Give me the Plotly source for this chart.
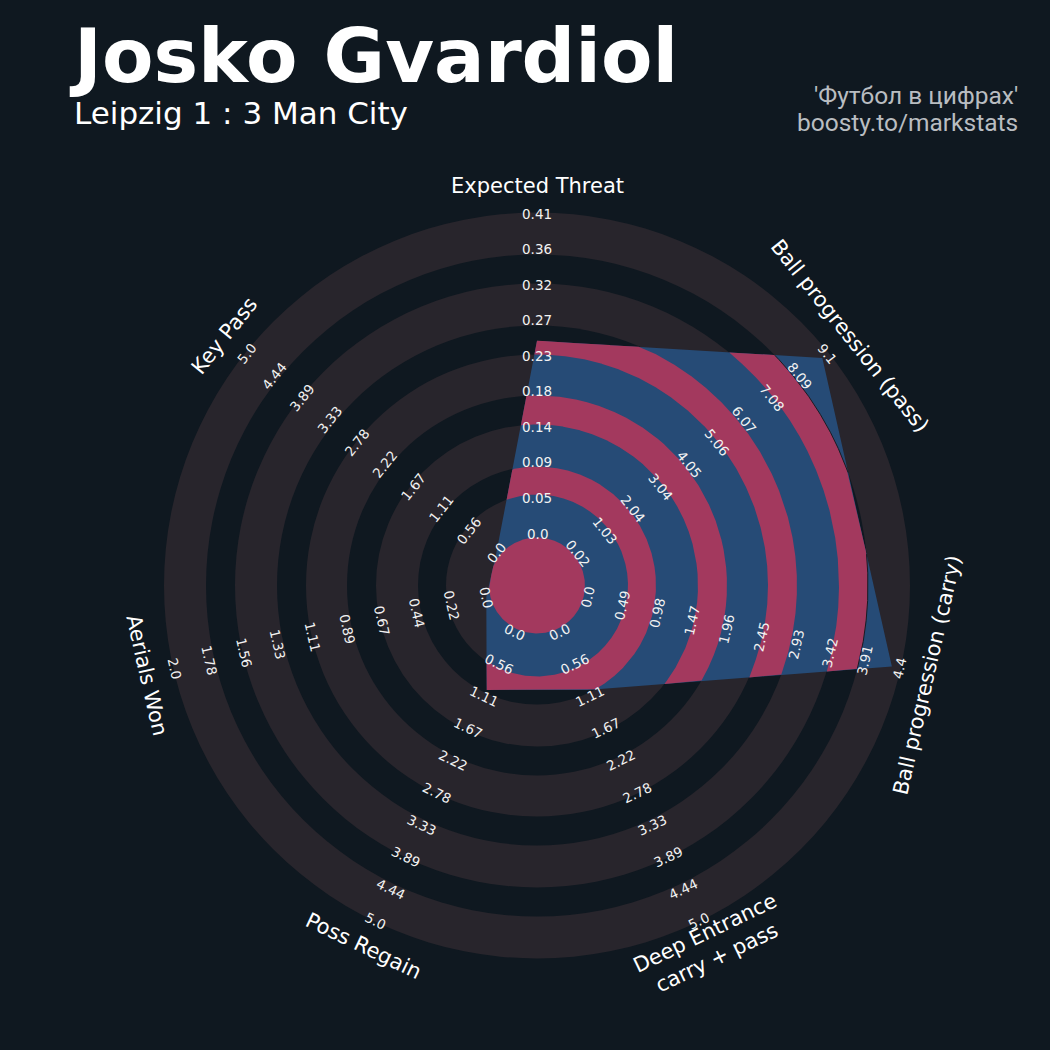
import numpy as np
import plotly.graph_objects as go

# ---------------- data ----------------
params = ["Expected Threat", "Ball progression (pass)", "Ball progression (carry)",
          "Deep Entrance<br>carry + pass", "Poss Regain", "Aerials Won", "Key Pass"]
min_range = [0.0, 0.017, 0.0, 0.0, 0.0, 0.0, 0.0]
max_range = [0.41, 9.1, 4.4, 5.0, 5.0, 2.0, 5.0]
values = [0.247, 8.9, 4.29, 1.0, 1.0, 0.0, 0.0]

labels_xt = ["0.0", "0.05", "0.09", "0.14", "0.18", "0.23", "0.27", "0.32", "0.36", "0.41"]
labels_pass = ["0.02", "1.03", "2.04", "3.04", "4.05", "5.06", "6.07", "7.08", "8.09", "9.1"]
labels_carry = ["0.0", "0.49", "0.98", "1.47", "1.96", "2.45", "2.93", "3.42", "3.91", "4.4"]
labels_deep = ["0.0", "0.56", "1.11", "1.67", "2.22", "2.78", "3.33", "3.89", "4.44", "5.0"]
labels_regain = ["0.0", "0.56", "1.11", "1.67", "2.22", "2.78", "3.33", "3.89", "4.44", "5.0"]
labels_aerial = ["0.0", "0.22", "0.44", "0.67", "0.89", "1.11", "1.33", "1.56", "1.78", "2.0"]
labels_key = ["0.0", "0.56", "1.11", "1.67", "2.22", "2.78", "3.33", "3.89", "4.44", "5.0"]
tick_labels = [labels_xt, labels_pass, labels_carry, labels_deep, labels_regain,
               labels_aerial, labels_key]

title = "Josko Gvardiol"
subtitle = "Leipzig 1 : 3 Man City"
credit_1 = "'Футбол в цифрах'"
credit_2 = "boosty.to/markstats"

# ---------------- style / geometry ----------------
W = H = 1050
CX, CY = 537.0, 585.5            # centre of radar in page pixels
R0, R1 = 52.0, 372.0             # radius for min / max value
R_OUT = 373.0
CENTER_R = 48.0
DARK_BANDS = [(91, 119), (161, 190), (231, 260), (302, 331)]
LABEL_R = 400.0

BG = "#0f1820"
GRAY = "#28252c"
BLUE = "#264b76"
RED = "#a3395e"
FONT = "DejaVu Sans"

n = len(params)
theta_deg = 90 - np.arange(n) * 360.0 / n
theta = np.deg2rad(theta_deg)

vals = np.array(values, float)
mins = np.array(min_range, float)
maxs = np.array(max_range, float)
r_v = R0 + np.clip((vals - mins) / (maxs - mins), 0, 1) * (R1 - R0)
P = np.stack([r_v * np.cos(theta), r_v * np.sin(theta)], -1)


def rho(th):
    u0, u1 = np.cos(th), np.sin(th)
    out = np.full(th.shape, np.nan)
    for i in range(n):
        A = P[i]
        B = P[(i + 1) % n]
        d = B - A
        den = u0 * d[1] - u1 * d[0]
        with np.errstate(divide="ignore", invalid="ignore"):
            s = (A[0] * B[1] - A[1] * B[0]) / den
            t = (A[0] * u1 - A[1] * u0) / den
        ok = (t >= -1e-9) & (t <= 1 + 1e-9) & (s > 0) & np.isnan(out)
        out = np.where(ok, s, out)
    return out


grid = np.linspace(0, 2 * np.pi, 3600, endpoint=False)
rg = rho(grid)
start = grid[np.nanargmin(rg)]
TH = np.linspace(start, start + 2 * np.pi, 6000)
RH = rho(np.mod(TH, 2 * np.pi))


def runs(mask):
    res = []
    i = 0
    N = len(mask)
    while i < N:
        if mask[i]:
            j = i
            while j < N and mask[j]:
                j += 1
            res.append((i, j))
            i = j
        else:
            i += 1
    return res


def band_path(a, b):
    xs, ys = [], []
    mask = RH > a
    for i, j in runs(mask):
        th = TH[i:j]
        ro = np.minimum(RH[i:j], b)
        px_ = list(ro * np.cos(th))
        py_ = list(ro * np.sin(th))
        if a > 0:
            ti = th[::-1]
            px_ += list(a * np.cos(ti))
            py_ += list(a * np.sin(ti))
        xs += px_ + [px_[0], None]
        ys += py_ + [py_[0], None]
    return xs, ys


fig = go.Figure()

# background rings
shapes = []


def circ(r, color):
    return dict(type="circle", xref="x", yref="y", x0=-r, y0=-r, x1=r, y1=r,
                fillcolor=color, line=dict(width=0), layer="below")


shapes.append(circ(R_OUT, GRAY))
for a, b in sorted(DARK_BANDS, reverse=True):
    shapes.append(circ(b, BG))
    shapes.append(circ(a, GRAY))

# radar polygon
fig.add_trace(go.Scatter(x=list(P[:, 0]) + [P[0, 0]], y=list(P[:, 1]) + [P[0, 1]],
                         mode="lines", fill="toself", fillcolor=BLUE,
                         line=dict(width=0, color=BLUE), hoverinfo="skip"))

# red rings inside the polygon
for a, b in [(0, CENTER_R)] + DARK_BANDS:
    xs, ys = band_path(a, b)
    fig.add_trace(go.Scatter(x=xs, y=ys, mode="lines", fill="toself", fillcolor=RED,
                             line=dict(width=0, color=RED), hoverinfo="skip"))

# thin dark edge at outer red ring
a, b = DARK_BANDS[-1]
lx, ly = [], []
m = RH >= b
for i, j in runs(m):
    th = TH[i:j]
    lx += list(b * np.cos(th)) + [None]
    ly += list(b * np.sin(th)) + [None]
fig.add_trace(go.Scatter(x=lx, y=ly, mode="lines", line=dict(width=1, color="#1b1b22"),
                         hoverinfo="skip"))


def text_angle(td):
    t = (90 - td) % 360
    if t > 180:
        t -= 360
    if t > 90:
        t -= 180
    elif t < -90:
        t += 180
    return t


annotations = []
for i in range(n):
    ang = text_angle(theta_deg[i])
    for k, lab in enumerate(tick_labels[i]):
        r = R0 + k * (R1 - R0) / 9
        annotations.append(dict(x=r * np.cos(theta[i]), y=r * np.sin(theta[i]), xref="x", yref="y",
                                text=lab, showarrow=False, textangle=ang,
                                xanchor="center", yanchor="middle",
                                font=dict(family=FONT, size=13.5, color="#f2f2f2")))
    annotations.append(dict(x=LABEL_R * np.cos(theta[i]), y=LABEL_R * np.sin(theta[i]),
                            xref="x", yref="y", text=params[i], showarrow=False, textangle=ang,
                            xanchor="center", yanchor="middle",
                            font=dict(family=FONT, size=21, color="#ffffff")))


def px(x):
    return x / W


def py(y):
    return 1 - y / H


annotations += [
    dict(x=px(67), y=py(56), xref="paper", yref="paper", text=title, showarrow=False,
         xanchor="left", yanchor="middle",
         font=dict(family=FONT, size=75, color="#ffffff", weight="bold")),
    dict(x=px(72), y=py(113), xref="paper", yref="paper", text=subtitle, showarrow=False,
         xanchor="left", yanchor="middle",
         font=dict(family=FONT, size=31, color="#ffffff")),
    dict(x=px(1020), y=py(96), xref="paper", yref="paper", text=credit_1, showarrow=False,
         xanchor="right", yanchor="middle",
         font=dict(family="Roboto", size=24.5, color="#b9bdc1")),
    dict(x=px(1020), y=py(123), xref="paper", yref="paper", text=credit_2, showarrow=False,
         xanchor="right", yanchor="middle",
         font=dict(family="Roboto", size=24.5, color="#b9bdc1")),
]

fig.update_layout(
    width=W, height=H,
    margin=dict(l=0, r=0, t=0, b=0),
    paper_bgcolor=BG, plot_bgcolor=BG,
    showlegend=False,
    shapes=shapes,
    annotations=annotations,
    xaxis=dict(range=[-CX, W - CX], visible=False, fixedrange=True),
    yaxis=dict(range=[-(H - CY), CY], visible=False, fixedrange=True),
)

fig.write_html("out.html", config={"displayModeBar": False},
               post_script="document.body.style.margin='0';document.body.style.background='%s';"
                           "document.body.style.overflow='hidden';" % BG)
